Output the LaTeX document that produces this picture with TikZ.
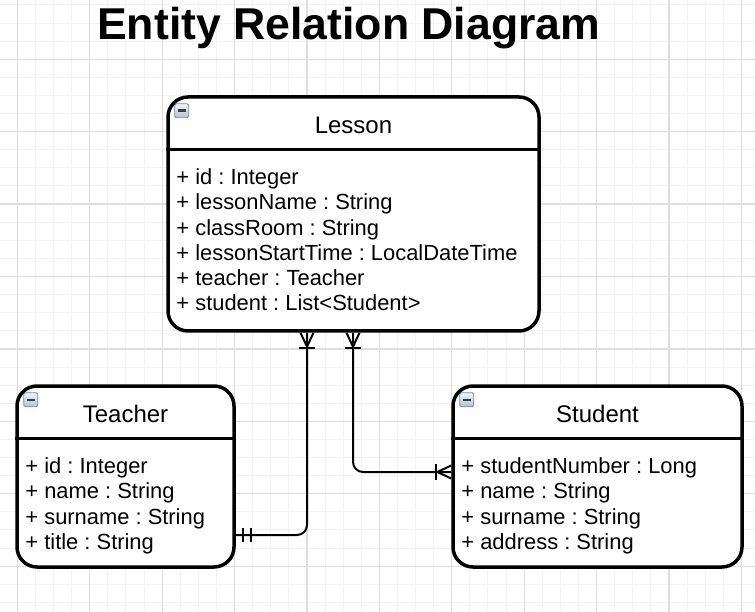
\documentclass[tikz,border=0pt]{standalone}
\usepackage{fontspec}
\setmainfont{Liberation Sans}
\frenchspacing
\usetikzlibrary{positioning,calc}
\definecolor{gridminor}{RGB}{243,243,243}
\definecolor{gridmajor}{RGB}{222,222,222}
\definecolor{iconedge}{RGB}{118,138,165}
\definecolor{icontop}{RGB}{242,245,249}
\definecolor{iconbot}{RGB}{178,193,212}
\definecolor{minusgrey}{RGB}{60,60,60}
\tikzset{
          entity/.style={draw,line width=3.5pt,rounded corners=20pt,
            fill=white,inner sep=0pt},
          header/.style={font=\fontsize{24}{28}\selectfont,text height=22pt,
            text depth=0pt,minimum height=54pt,inner sep=0pt,anchor=north},
          attr/.style={font=\fontsize{21.9}{25}\selectfont,anchor=base west,
            inner sep=0pt},
          sepline/.style={line width=3pt},
          rel/.style={line width=2pt,rounded corners=10pt},
          relmark/.style={line width=2pt},
          icon/.style={draw=iconedge,top color=icontop,bottom color=iconbot,
            line width=0.8pt,minimum size=14pt,inner sep=0pt,
            rounded corners=1.5pt},
          minusbar/.style={draw=minusgrey,line width=2.5pt},
          title/.style={font=\fontsize{44.6}{50}\selectfont\bfseries,anchor=base},
          minorline/.style={draw=gridminor,line width=1pt},
          majorline/.style={draw=gridmajor,line width=1.2pt}
        }
\newcommand\AttrList[2]{%
          \foreach \t [count=\i] in {#2}
            \node[attr] (#1-\i)
            at ($(#1.west |- #1Head.south)+(10,{35+25.2*(\i-1)})$) {\t};
        }
\newcommand\Entity[6]{%
          \node[entity,minimum width=#3,minimum height=#4] (#1) at (#2) {};
          \node[header] (#1Head) at (#1.north) {#5};
          \draw[sepline] (#1.west |- #1Head.south) -- (#1.east |- #1Head.south);
          \node[icon] (#1Icon) at ($(#1.north west)+(15.5,15.5)$) {};
          \draw[minusbar] ([xshift=-4pt]#1Icon.center) -- ([xshift=4pt]#1Icon.center);
          \AttrList{#1}{#6}
        }
\newcommand\CrowFoot[2]{%
          \begin{scope}[shift={(#1)},rotate=#2]
            \draw[relmark] (0,-6.5) -- (14,0) -- (0,6.5);
            \draw[relmark] (15.5,-8) -- (15.5,8);
          \end{scope}
        }
\newcommand\OneOne[2]{%
          \begin{scope}[shift={(#1)},rotate=#2]
            \draw[relmark] (7,-7) -- (7,7);
            \draw[relmark] (15,-7) -- (15,7);
          \end{scope}
        }

\begin{document}
\begin{tikzpicture}[x=1pt,y=-1pt]
            \useasboundingbox (0,0) rectangle (755,612);
            \fill[white] (0,0) rectangle (755,612);

            % grid
            \foreach \k in {0,...,42}
              \draw[minorline] ({-0.8+18.1*\k},0) -- ({-0.8+18.1*\k},612);
            \foreach \k in {0,...,34}
              \draw[minorline] (0,{5+18.1*\k}) -- (755,{5+18.1*\k});
            \foreach \k in {0,...,10}
              \draw[majorline] ({17.3+72.4*\k},0) -- ({17.3+72.4*\k},612);
            \foreach \k in {0,...,7}
              \draw[majorline] (0,{59.3+72.4*\k}) -- (755,{59.3+72.4*\k});

            \node[title] (title) at (348.7,39.3) {Entity Relation Diagram};

            \Entity{lesson}{353.5,214}{371}{234}{Lesson}{%
              + id : Integer, + lessonName : String, + classRoom : String,
              + lessonStartTime : LocalDateTime, + teacher : Teacher,
              + student : List<Student>}
            \Entity{teacher}{125.5,476.5}{217}{181}{Teacher}{%
              + id : Integer, + name : String, + surname : String,
              + title : String}
            \Entity{student}{597.5,476.5}{289}{181}{Student}{%
              + studentNumber : Long, + name : String, + surname : String,
              + address : String}

            % relations
            \draw[rel] ([xshift=-46.5pt]lesson.south) |- ([yshift=-58.5pt]teacher.east);
            \draw[rel] ([xshift=-0.5pt]lesson.south) |- ([yshift=4.5pt]student.west);
            \CrowFoot{[xshift=-46.5pt]lesson.south}{-90}
            \CrowFoot{[xshift=-0.5pt]lesson.south}{-90}
            \CrowFoot{[yshift=4.5pt]student.west}{180}
            \OneOne{[yshift=-58.5pt]teacher.east}{0}
          \end{tikzpicture}
\end{document}
